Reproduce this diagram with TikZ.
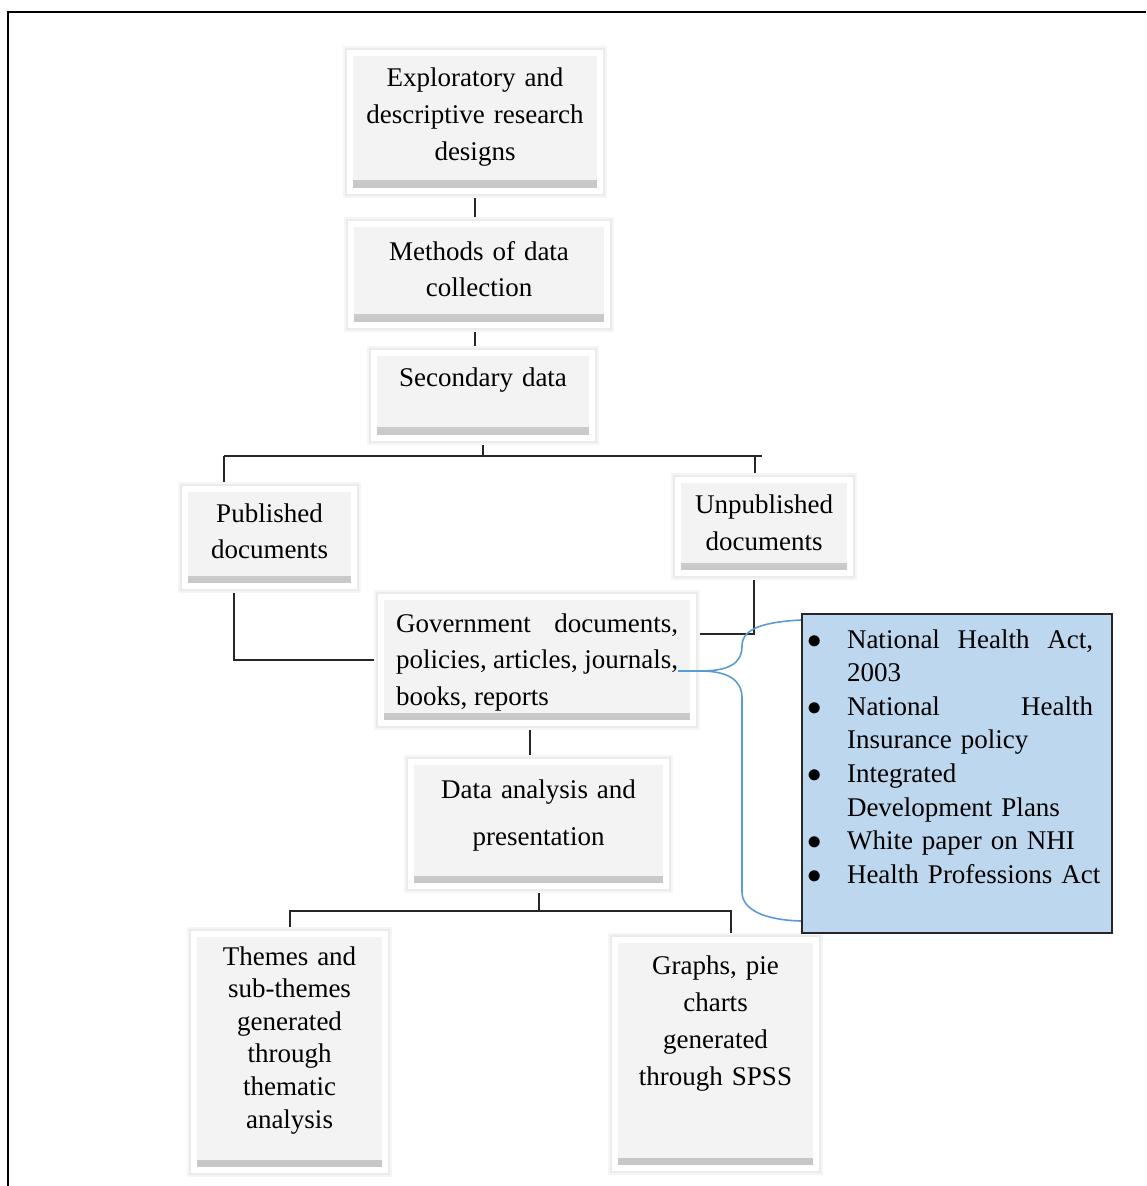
\documentclass[tikz,border=0pt]{standalone}
\usepackage{fontspec}
\setmainfont{Liberation Serif}
\usepackage{tikz}
\usetikzlibrary{positioning, shadows, backgrounds}
\usepackage{xcolor}
\definecolor{boxgray}{HTML}{F3F3F3}
\definecolor{noteblue}{HTML}{BDD7EE}
\definecolor{braceblue}{HTML}{5B9BD5}
\newcommand{\boxfont}[1]{\fontsize{13.5}{#1}\selectfont}
\newcommand{\notebullet}{\leavevmode\llap{$\bullet$\hspace{12.5pt}}}
\tikzset{%
	docbox/.style={
		rectangle,
		draw=white,
		line width=3pt,
		fill=boxgray,
		drop shadow={opacity=0.15, shadow xshift=1.5pt, shadow yshift=-3.5pt},
		preaction={draw=black!4, line width=6.6pt},
		preaction={draw=black!8, line width=4.8pt},
		path picture={\shade[top color=boxgray, bottom color=gray!45] ([yshift=1.5pt]path picture bounding box.south west) rectangle ([yshift=5pt]path picture bounding box.south east);},
		inner sep=0pt,
		align=center,
		font=\boxfont{18.5}
	},
	notebox/.style={
		rectangle,
		draw=black!85,
		line width=1pt,
		fill=noteblue,
		inner sep=0pt,
		font=\boxfont{16.8}
	},
	link/.style={draw=black!85, line width=1pt},
	bracelink/.style={draw=braceblue, line width=0.8pt},
}

\begin{document}
\begin{tikzpicture}[x=0.5pt, y=-0.5pt]
			\useasboundingbox (0,0) rectangle (1146,1186);
			% Draw the frame
			\draw[line width=1pt] (8,1186) -- (8,12) -- (1146,12);
			
			% Draw the boxes
			\node[docbox, text width=125pt, text height=17pt, text depth=52pt] (explor) at (475,122) {Exploratory and\\descriptive research\\designs};
			\node[docbox, text width=128pt, text height=18.5pt, text depth=32pt, font=\boxfont{18}] (methods) at (479,274.5) {Methods of data\\collection};
			\node[docbox, text width=109pt, text height=17pt, text depth=25.5pt] (secondary) at (483,395.5) {Secondary data};
			\node[docbox, text width=84.5pt, text height=16.5pt, text depth=32pt, font=\boxfont{18}] (published) at (269.5,537.5) {Published\\documents};
			\node[docbox, text width=86pt, text height=16.5pt, text depth=30pt] (unpublished) at (764,526.5) {Unpublished\\documents};
			\node[docbox, align=justify, inner xsep=7.5pt, text width=141pt, text height=17.5pt, text depth=45.5pt, font=\boxfont{18.25}] (government) at (537,660) {Government\hfill documents,\\policies, articles, journals,\\books, reports};
			\node[docbox, text width=127.5pt, text height=18pt, text depth=44pt, font=\boxfont{23.5}] (analysis) at (538.5,824) {Data analysis and\\presentation};
			\node[docbox, text width=95.5pt, text height=15.5pt, text depth=102.5pt, font=\boxfont{16.3}] (themes) at (289.5,1052) {Themes and\\sub-themes\\generated\\through\\thematic\\analysis};
			\node[docbox, text width=100.5pt, text height=17pt, text depth=97pt] (graphs) at (715.5,1054) {Graphs, pie\\charts\\generated\\through SPSS};
			
			% Draw the list of acts
			\node[notebox, text width=155pt, text height=17pt, text depth=142.5pt] (acts) at (957,773.5) {\leftskip=22.5pt \rightskip=9.5pt
				\notebullet National\hfill Health\hfill Act,\\2003\\
				\notebullet National\hfill Health\\Insurance policy\\
				\notebullet Integrated\\Development Plans\\
				\notebullet White paper on NHI\\
				\notebullet \mbox{Health Professions Act}\par};
			
			\coordinate (bar1) at (478,456);
			\coordinate (pubdrop) at (224,456);
			\coordinate (unpubdrop) at (755,456);
			\coordinate (bar1end) at (762,456);
			\coordinate (bar2) at (537,911);
			\coordinate (graphsdrop) at (731,911);
			\coordinate (bracetip) at (678,671);
			\coordinate (bracefork) at (700,671);
			
			% Draw the connectors
			\begin{scope}[on background layer]
			\draw[link] (explor.south) -- (explor.south |- methods.north);
			\draw[link] ([xshift=-2pt]methods.south) -- ([xshift=-2pt]methods.south |- secondary.north);
			\draw[link] (secondary.south) -- (secondary.south |- bar1);
			\draw[link] (pubdrop) -- (bar1end);
			\draw[link] (pubdrop) -- (pubdrop |- published.north);
			\draw[link] (unpubdrop) -- (unpubdrop |- unpublished.north);
			\draw[link] ([xshift=-18pt]published.south) |- (government.west);
			\draw[link] ([xshift=-5pt]unpublished.south) |- ([yshift=13pt]government.east);
			\draw[link] ([xshift=-3.5pt]government.south) -- ([xshift=-3.5pt]government.south |- analysis.north);
			\draw[link] (analysis.south) -- (analysis.south |- bar2);
			\draw[link] (themes.north) |- (graphsdrop) -- (graphsdrop |- graphs.north);
			\end{scope}
			
			% Draw the brace
			\draw[bracelink] (bracetip) -- (bracefork) .. controls (728,671) and (742,664) .. (742,646) .. controls (742,628) and (765,622) .. ([yshift=-3.5pt]acts.north west);
			\draw[bracelink] (bracefork) .. controls (728,671) and (742,680) .. (742,698) -- (742,892) .. controls (742,910) and (765,920) .. ([yshift=6.5pt]acts.south west);
\end{tikzpicture}
\end{document}
